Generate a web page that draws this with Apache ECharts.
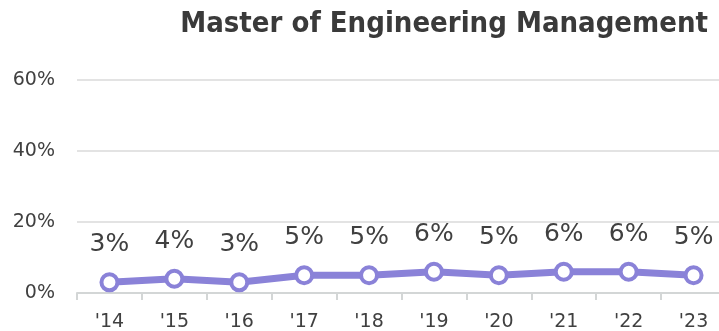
<!DOCTYPE html>
<html>
<head>
<meta charset="utf-8">
<script src="https://cdn.jsdelivr.net/npm/echarts@6/dist/echarts.min.js"></script>
<style>
  html, body { margin: 0; padding: 0; background: #fff; }
  #chart { width: 719px; height: 331px; }
</style>
</head>
<body>
<div id="chart"></div>
<script>
// Cohort years and the share for each year (percent)
const years = ["'14", "'15", "'16", "'17", "'18", "'19", "'20", "'21", "'22", "'23"];
const shares = [3, 4, 3, 5, 5, 6, 5, 6, 6, 5];
const yTicks = [0, 20, 40, 60];

const chart = echarts.init(document.getElementById('chart'), null, { renderer: 'canvas' });
chart.setOption({
  animation: false,
  title: {
    text: 'Master of Engineering Management',
    right: 6,
    top: 5,
    textStyle: {
      fontFamily: 'DejaVu Sans Condensed',
      fontWeight: 'bold',
      fontSize: 29,
      color: '#3a3a3a'
    }
  },
  // plot area runs slightly past the right edge of the canvas
  grid: { left: 77, width: 649, top: 80, height: 213, outerBoundsMode: 'none', containLabel: false },
  xAxis: {
    type: 'category',
    data: years,
    boundaryGap: true,
    axisLine: { lineStyle: { color: '#d3d6d6', width: 2 } },
    axisTick: { show: true, length: 7, lineStyle: { color: '#d3d6d6', width: 2 } },
    axisLabel: {
      fontFamily: 'DejaVu Sans',
      fontSize: 19,
      color: '#404040',
      margin: 20
    }
  },
  yAxis: {
    type: 'value',
    min: yTicks[0],
    max: yTicks[yTicks.length - 1],
    interval: 20,
    axisLine: { show: false },
    axisTick: { show: false },
    splitLine: { lineStyle: { color: '#e3e3e3', width: 2 } },
    axisLabel: {
      fontFamily: 'DejaVu Sans',
      fontSize: 19,
      color: '#404040',
      margin: 22,
      formatter: v => v + '%'
    }
  },
  series: [{
    type: 'line',
    data: shares,
    symbol: 'circle',
    symbolSize: 16,
    lineStyle: { color: '#8a82d8', width: 7 },
    itemStyle: { color: '#ffffff', borderColor: '#8a82d8', borderWidth: 4 },
    label: {
      show: true,
      position: 'top',
      distance: 15,
      fontFamily: 'DejaVu Sans',
      fontSize: 25,
      color: '#404040',
      formatter: p => p.value + '%'
    }
  }]
});
</script>
</body>
</html>
